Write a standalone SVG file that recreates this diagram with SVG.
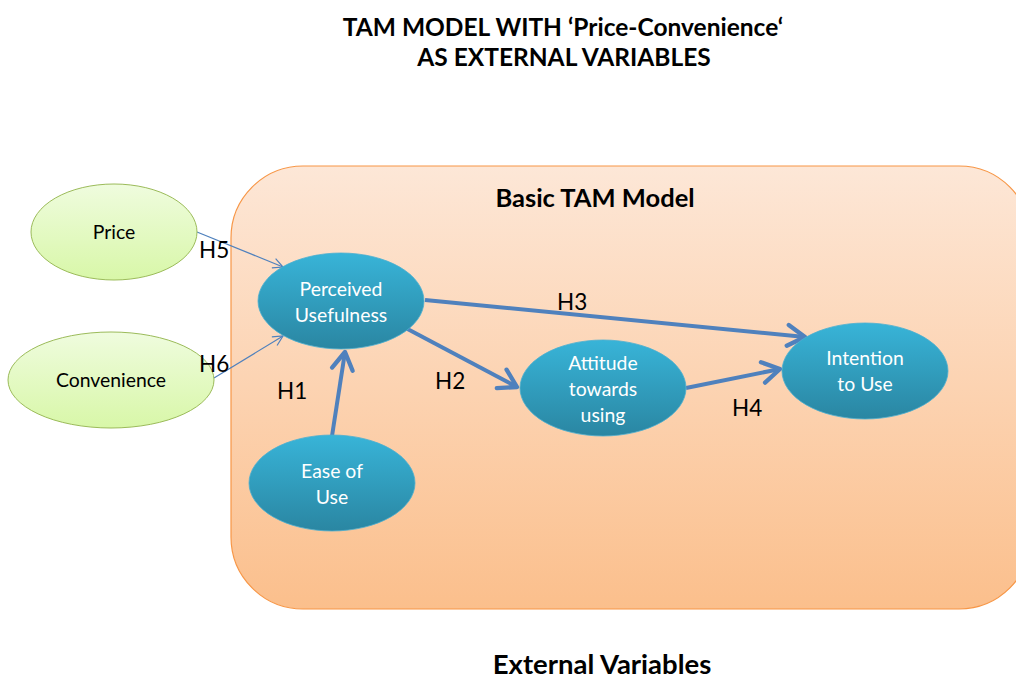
<svg xmlns="http://www.w3.org/2000/svg" width="1016" height="682" viewBox="0 0 1016 682">
<defs>
<linearGradient id="gBox" x1="0" y1="0" x2="0" y2="1">
<stop offset="0" stop-color="#fde7d7"/>
<stop offset="1" stop-color="#fbbf8c"/>
</linearGradient>
<linearGradient id="gBlue" x1="0" y1="0" x2="0" y2="1">
<stop offset="0" stop-color="#38b4d8"/>
<stop offset="1" stop-color="#2a86a2"/>
</linearGradient>
<linearGradient id="gGreen" x1="0" y1="0" x2="0" y2="1">
<stop offset="0" stop-color="#effcde"/>
<stop offset="1" stop-color="#d8f7a8"/>
</linearGradient>
<marker id="aThin" viewBox="0 0 12 12" refX="11" refY="6" markerWidth="12" markerHeight="12" markerUnits="userSpaceOnUse" orient="auto">
<path d="M1,1 L11,6 L1,11" fill="none" stroke="#4f81bd" stroke-width="1.2"/>
</marker>
<marker id="aThick" viewBox="0 0 6 6" refX="5" refY="3" markerWidth="6.5" markerHeight="6.5" orient="auto">
<path d="M1,0.6 L5,3 L1,5.4" fill="none" stroke="#4f81bd" stroke-width="1" stroke-linecap="round" stroke-linejoin="round"/>
</marker>
</defs>
<style>
.t{font-family:Lato,"Liberation Sans",Arial,sans-serif;}
.title{font-size:24.5px;font-weight:bold;fill:#000;text-anchor:middle;}
.wn{font-size:19.4px;fill:#fff;text-anchor:middle;}
.bn{font-size:19.4px;fill:#000;text-anchor:middle;}
.h{font-size:22.5px;fill:#000;}
.blue{fill:url(#gBlue);stroke:#4aaed0;stroke-width:0.8;}
.green{fill:url(#gGreen);stroke:#9bbb59;stroke-width:1;}
.thin{stroke:#4f81bd;stroke-width:1.2;fill:none;}
.thick{stroke:#4f81bd;stroke-width:4;fill:none;}
</style>
<rect width="1016" height="682" fill="#fff"/>
<g class="t">
<text class="title" x="563" y="36">TAM MODEL WITH ‘Price-Convenience‘</text>
<text class="title" x="564" y="66">AS EXTERNAL VARIABLES</text>
</g>
<g id="tam-box">
<rect x="231" y="166" width="800" height="443" rx="72" ry="72" fill="url(#gBox)" stroke="#f79646" stroke-width="1.2"/>
<text class="t title" x="595" y="207" style="font-size:25.5px">Basic TAM Model</text>
</g>
<g id="connectors">
<line class="thin" x1="197" y1="232" x2="283" y2="267" marker-end="url(#aThin)"/>
<line class="thin" x1="214" y1="378" x2="283" y2="336" marker-end="url(#aThin)"/>
<line class="thick" x1="332" y1="436" x2="345" y2="352" marker-end="url(#aThick)"/>
<line class="thick" x1="425" y1="300" x2="805" y2="337" marker-end="url(#aThick)"/>
<line class="thick" x1="400" y1="325" x2="517" y2="387" marker-end="url(#aThick)"/>
<line class="thick" x1="686" y1="388" x2="780" y2="369" marker-end="url(#aThick)"/>
</g>
<g id="price">
<ellipse class="green" cx="114" cy="232" rx="83" ry="48"/>
<text class="t bn" x="114" y="239">Price</text>
</g>
<g id="convenience">
<ellipse class="green" cx="111" cy="380" rx="103" ry="48"/>
<text class="t bn" x="111" y="387">Convenience</text>
</g>
<g id="perceived-usefulness">
<ellipse class="blue" cx="341" cy="301" rx="83" ry="48"/>
<text class="t wn" x="341" y="296">Perceived</text>
<text class="t wn" x="341" y="322">Usefulness</text>
</g>
<g id="attitude">
<ellipse class="blue" cx="603" cy="388" rx="83" ry="48"/>
<text class="t wn" x="603" y="370">Attitude</text>
<text class="t wn" x="603" y="396">towards</text>
<text class="t wn" x="603" y="422">using</text>
</g>
<g id="intention">
<ellipse class="blue" cx="865" cy="371" rx="83" ry="48"/>
<text class="t wn" x="865" y="365">Intention</text>
<text class="t wn" x="865" y="391">to Use</text>
</g>
<g id="ease-of-use">
<ellipse class="blue" cx="332" cy="483" rx="83" ry="48"/>
<text class="t wn" x="332" y="478">Ease of</text>
<text class="t wn" x="332" y="504">Use</text>
</g>
<g id="connector-labels" class="t h">
<text x="199" y="258">H5</text>
<text x="199" y="372">H6</text>
<text x="277" y="399">H1</text>
<text x="435" y="389">H2</text>
<text x="557" y="310">H3</text>
<text x="732" y="416">H4</text>
</g>
<g id="external-label">
<text class="t title" x="602" y="674" style="font-size:27.5px">External Variables</text>
</g>
</svg>
